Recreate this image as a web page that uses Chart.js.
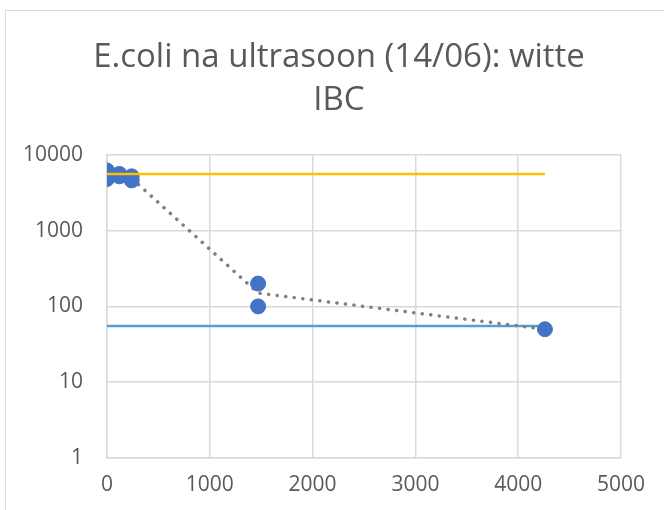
<!DOCTYPE html>
<html lang="nl">
<head>
    <meta charset="UTF-8">
    <title>E.coli na ultrasoon</title>
    <script src="https://cdn.jsdelivr.net/npm/chart.js"></script>
    <style>
        html, body { margin: 0; padding: 0; background: #fff; overflow: hidden; }
        .frame { position: absolute; left: 5px; top: 10px; width: 900px; height: 900px; border: 1px solid #d9d9d9; }
        .wrap { position: absolute; left: 0; top: 0; width: 664px; height: 510px; }
    </style>
</head>
<body>
    <div class="frame"></div>
    <div class="wrap"><canvas id="chart" width="664" height="510"></canvas></div>

    <script>
        // measured points (time vs. count)
        const times  = [0, 0, 120, 120, 240, 240, 1470, 1470, 4260];
        const counts = [6200, 4800, 5600, 5200, 5200, 4600, 200, 100, 50];

        // averages per time for the dotted trend
        const trendTimes  = [0, 120, 240, 1470, 4260];
        const trendCounts = [5500, 5400, 4900, 150, 50];

        // reference levels
        const lineTimes = [0, 4260];
        const upperLevel = 5560;
        const lowerLevel = 55;

        const xTicks = [0, 1000, 2000, 3000, 4000, 5000];
        const yTicks = [1, 10, 100, 1000, 10000];

        const textColor = '#595959';
        const gridColor = '#d9d9d9';

        function pts(xs, ys) {
            return xs.map((x, i) => ({ x: x, y: ys[i] }));
        }

        new Chart(document.getElementById('chart'), {
            type: 'scatter',
            data: {
                datasets: [
                    {
                        data: pts(lineTimes, [upperLevel, upperLevel]),
                        showLine: true,
                        borderColor: '#FFC000',
                        borderWidth: 2.5,
                        pointRadius: 0
                    },
                    {
                        data: pts(times, counts),
                        backgroundColor: '#4472C4',
                        borderColor: '#4472C4',
                        pointRadius: 7.5,
                        pointHoverRadius: 7.5
                    },
                    {
                        data: pts(trendTimes, trendCounts),
                        showLine: true,
                        borderColor: '#7f7f7f',
                        borderWidth: 3.5,
                        borderDash: [0.1, 8.5],
                        borderCapStyle: 'round',
                        pointRadius: 0
                    },
                    {
                        data: pts(lineTimes, [lowerLevel, lowerLevel]),
                        showLine: true,
                        borderColor: '#5B9BD5',
                        borderWidth: 2.5,
                        pointRadius: 0
                    }
                ]
            },
            options: {
                responsive: false,
                animation: false,
                layout: { padding: { left: 14, right: 0, top: 0, bottom: 0 } },
                plugins: {
                    legend: { display: false },
                    tooltip: { enabled: false },
                    title: {
                        display: true,
                        text: ['E.coli na ultrasoon (14/06): witte', 'IBC'],
                        color: textColor,
                        font: { family: 'Open Sans', size: 33, weight: 'normal', lineHeight: 1.3 },
                        padding: { top: 36, bottom: 33 }
                    }
                },
                scales: {
                    x: {
                        type: 'linear',
                        min: 0,
                        max: 5000,
                        afterBuildTicks: s => { s.ticks = xTicks.map(v => ({ value: v })); },
                        afterFit: s => { s.height = 52; s.paddingRight = 43; },
                        grid: { color: gridColor, lineWidth: 1.5, drawTicks: false },
                        border: { color: gridColor, width: 1.5 },
                        ticks: {
                            color: textColor,
                            padding: 14,
                            font: { family: 'Open Sans', size: 21 },
                            callback: v => String(v)
                        }
                    },
                    y: {
                        type: 'logarithmic',
                        min: 1,
                        max: 10000,
                        afterBuildTicks: s => { s.ticks = yTicks.map(v => ({ value: v })); },
                        afterFit: s => { s.width = 93; },
                        grid: { color: gridColor, lineWidth: 1.5, drawTicks: false },
                        border: { color: gridColor, width: 1.5 },
                        ticks: {
                            color: textColor,
                            padding: 24,
                            font: { family: 'Open Sans', size: 21 },
                            callback: v => String(v)
                        }
                    }
                }
            }
        });
    </script>
</body>
</html>
